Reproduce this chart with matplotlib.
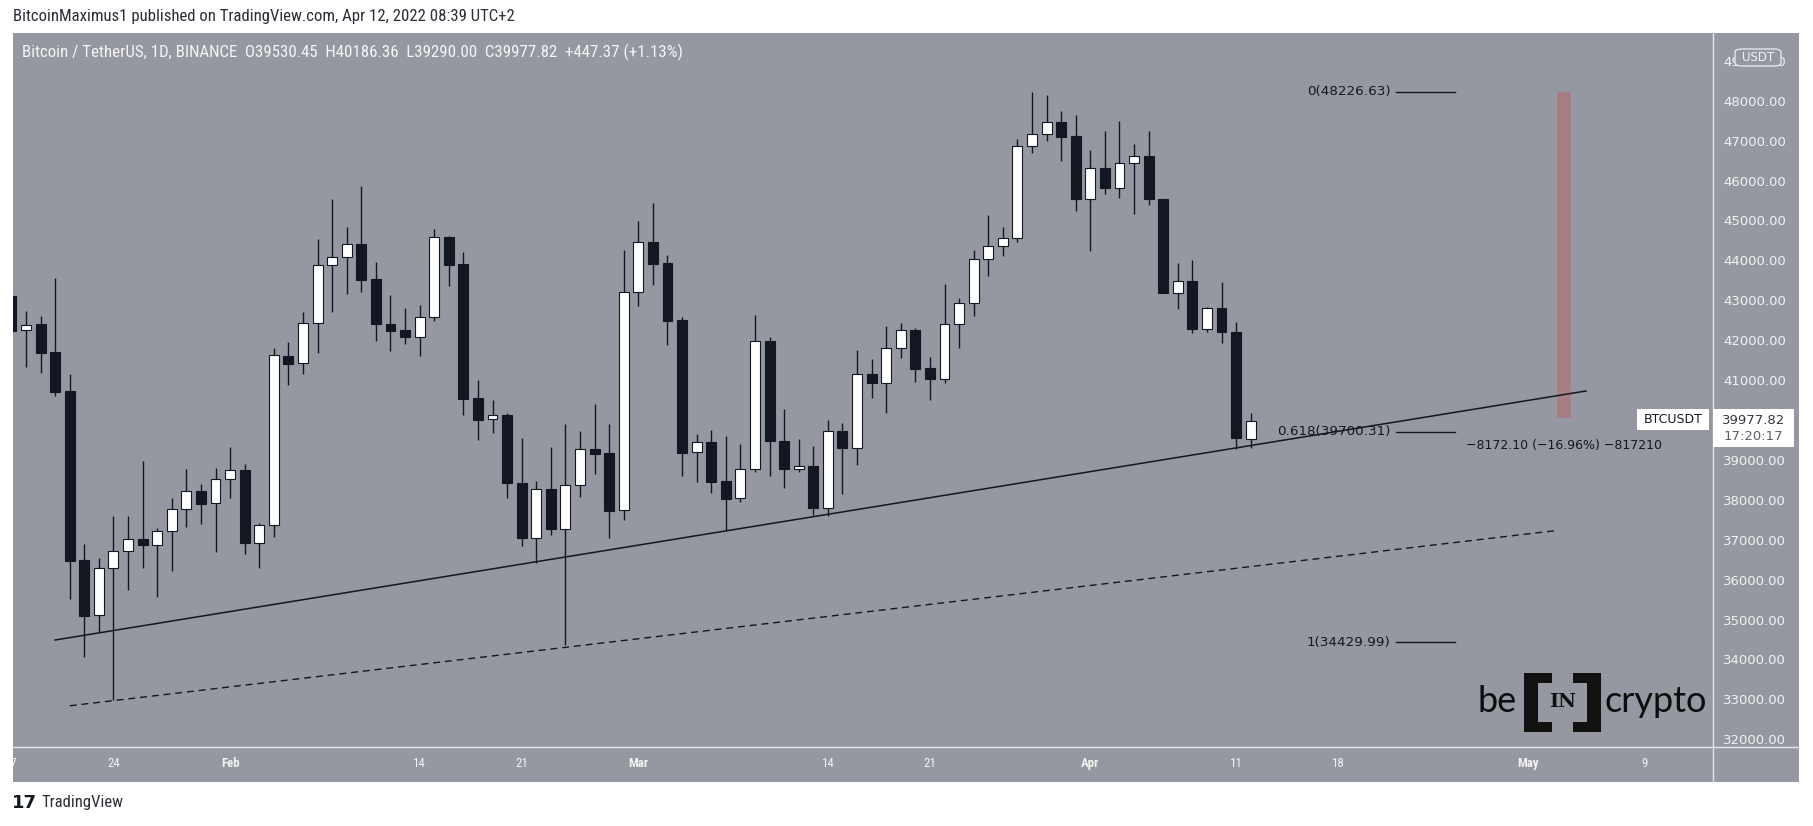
import numpy as np
import pandas as pd
import matplotlib
matplotlib.use("Agg")
import matplotlib.pyplot as plt
import matplotlib.dates as mdates
from matplotlib import font_manager
from matplotlib.patches import Rectangle, FancyBboxPatch
from matplotlib.lines import Line2D

# Daily BTC/USDT candles, Jan 17 - Apr 12 2022
dates = pd.date_range("2022-01-17", "2022-04-12", freq="D")
opens = [43107, 42247, 42405, 41700, 40725, 36491, 35106, 36284, 36710, 37010,
         36860, 37210, 37762, 38220, 37914,
         38515, 38747, 36926, 37362, 41603, 41420, 42423, 43876, 44076, 44402,
         43525, 42405, 42247, 42087, 42573, 44577, 43907, 40550, 40017, 40125,
         38420, 37049, 38262, 37276, 38362, 39265, 39173, 37738,
         43199, 44452, 43926, 42505, 39190, 39440, 38471, 38038, 38764, 41971,
         39466, 38764, 38847, 37803, 39724, 39306, 41145, 40934, 41796, 42254,
         41302, 41034, 42397, 42924, 44026, 44360, 44552, 46857, 47158, 47459,
         47116,
         45529, 46306, 45820, 46431, 46615, 45537, 43189, 43483, 42287, 42798,
         42197, 39530.45]
highs = [43450, 42731, 42605, 43550, 41152, 36891, 36534, 37594, 37594, 38973,
         37300, 38053, 38774, 38396, 38789,
         39323, 38890, 37428, 41796, 41946, 42706, 44530, 45537, 44835, 45863,
         43958, 43137, 42798, 42882, 44785, 44600, 44208, 41002, 40500, 40183,
         39548, 38471, 39312, 39900, 39723, 40393, 39900, 44259,
         44986, 45429, 44126, 42588, 39649, 39749, 39606, 39390, 42630, 42087,
         40275, 39524, 39349, 39999, 39932, 41754, 41528, 42355, 42422, 42297,
         41586, 43407, 43049, 44259, 45144, 44843, 47033, 48210, 48143, 47742,
         47641,
         46757, 47241, 47491, 46915, 47241, 45545, 43933, 44009, 42823, 43465,
         42447, 40186.36]
lows = [41950, 41320, 41185, 40610, 35507, 34069, 34695, 32984, 35740, 36300,
        35557, 36216, 37326, 37394, 36700,
        38053, 36650, 36299, 37076, 40876, 41160, 41686, 42713, 43157, 43214,
        41979, 41736, 41904, 41604, 42488, 43365, 40125, 39498, 39666, 38053,
        36841, 36409, 37106, 34350, 38078, 38639, 37051, 37494,
        42864, 43383, 41879, 38604, 38454, 38164, 37218, 37937, 38705, 38604,
        38288, 38705, 37619, 37594, 38146, 38872, 40558, 40183, 41561, 40960,
        40500, 40934, 41812, 42605, 43608, 44116, 44452, 46697, 46990, 46497,
        45244,
        44234, 45670, 45570, 45169, 45387, 43174, 42781, 42170, 42197, 41921,
        39265, 39290.00]
closes = [42237, 42387, 41686, 40709, 36475, 35096, 36284, 36710, 37010, 36860,
          37210, 37762, 38220, 37902, 38515,
          38741, 36926, 37362, 41620, 41410, 42423, 43876, 44076, 44402, 43515,
          42398, 42237, 42087, 42573, 44577, 43891, 40533, 40007, 40117, 38413,
          37049, 38262, 37268, 38362, 39265, 39155, 37728, 43199,
          44452, 43916, 42488, 39180, 39440, 38454, 38027, 38764, 41979, 39466,
          38764, 38840, 37803, 39716, 39306, 41145, 40934, 41796, 42254, 41285,
          41034, 42397, 42924, 44026, 44360, 44560, 46857, 47158, 47459, 47098,
          45529,
          46306, 45820, 46431, 46607, 45529, 43189, 43483, 42287, 42798, 42197,
          39556, 39977.82]

# Drawings
support_dates = ["2022-01-20", "2022-05-05"]
support_prices = [34487, 40726]
lower_dates = ["2022-01-21", "2022-05-03"]
lower_prices = [32839, 37231]
fib_labels = ["0", "0.618", "1"]
fib_prices = [48226.63, 39700.31, 34429.99]
fib_dates = ["2022-04-22", "2022-04-26"]
range_dates = ["2022-05-03", "2022-05-04"]
range_top, range_bottom = 48226.63, 40054.53

tick_dates = ["2022-01-24", "2022-02-01", "2022-02-14", "2022-02-21", "2022-03-01",
              "2022-03-14", "2022-03-21", "2022-04-01", "2022-04-11", "2022-04-18",
              "2022-05-01", "2022-05-09"]
tick_labels = ["24", "Feb", "14", "21", "Mar", "14", "21", "Apr", "11", "18", "May", "9"]
month_labels = {"Feb", "Mar", "Apr", "May"}

# Colors / fonts
GRAY = "#9598a1"
DARK = "#131722"
AXTXT = "#f2f2f2"
W, H = 1813, 826

avail = {f.name for f in font_manager.fontManager.ttflist}
def pick(*names):
    return next((n for n in names if n in avail), "DejaVu Sans")
NARROW = pick("Liberation Sans Narrow", "Roboto Condensed", "Liberation Sans")
THIN = pick("Lato", "Open Sans", "Roboto")

def fx(x):
    return x / W

def fy(y):
    return 1 - y / H

fig = plt.figure(figsize=(W / 100, H / 100), dpi=100)
fig.patch.set_facecolor("white")

# gray panel behind chart + both scales
fig.add_artist(Rectangle((fx(13), fy(782)), fx(1799) - fx(13), fy(33) - fy(782),
                         transform=fig.transFigure, facecolor=GRAY, edgecolor="none", zorder=-1))

ax = fig.add_axes([fx(13), fy(747), fx(1713) - fx(13), fy(33) - fy(747)])
ax.set_facecolor(GRAY)
for s in ax.spines.values():
    s.set_visible(False)

x = mdates.date2num(dates)
o = np.array(opens); h = np.array(highs); l = np.array(lows); c = np.array(closes)
up = c >= o
ax.vlines(x, l, h, color=DARK, lw=1.0, zorder=2)
ax.bar(x, np.abs(c - o), width=0.68, bottom=np.minimum(o, c),
       color=np.where(up, "white", DARK), edgecolor=DARK, linewidth=0.8, zorder=3)

# trend lines
ax.plot(mdates.datestr2num(support_dates), support_prices, color=DARK, lw=1.1, zorder=4)
ax.plot(mdates.datestr2num(lower_dates), lower_prices, color=DARK, lw=1.0,
        dashes=(5, 3.5), zorder=4)

# fib levels
fx0, fx1 = mdates.datestr2num(fib_dates)
for lab, p in zip(fib_labels, fib_prices):
    ax.plot([fx0, fx1], [p, p], color=DARK, lw=1.0, zorder=4)
    ax.annotate(f"{lab}({p:.2f})", xy=(fx0, p), xytext=(-4, 0), textcoords="offset points",
                ha="right", va="center", fontsize=9.7, color=DARK)

# price range box
r0, r1 = mdates.datestr2num(range_dates)
ax.add_patch(Rectangle((r0, range_bottom), r1 - r0, range_top - range_bottom,
                       facecolor="#c94f4f", alpha=0.35, edgecolor="none", zorder=3))
diff = range_bottom - range_top
ax.annotate(f"\u2212{abs(diff):.2f} (\u221216.96%) \u2212817210", xy=((r0 + r1) / 2, range_bottom),
            xytext=(0, -20), textcoords="offset points", ha="center", va="center",
            fontsize=9, color=DARK)

# axes limits / ticks
x_left = mdates.datestr2num("2022-01-24") - 6.89
ax.set_xlim(x_left, x_left + 116.6)
ax.set_ylim(31806, 49696)
ax.yaxis.tick_right()
ax.set_yticks(np.arange(32000, 49001, 1000))
ax.set_yticklabels([f"{v:.2f}" for v in np.arange(32000, 49001, 1000)])
ax.tick_params(axis="y", length=0, pad=7.2, labelsize=9.5, labelcolor=AXTXT)
ax.set_xticks(mdates.datestr2num(tick_dates))
ax.set_xticklabels(tick_labels)
ax.tick_params(axis="x", length=0, pad=7.5, labelsize=9.3, labelcolor=AXTXT)
for t in ax.get_xticklabels():
    t.set_fontfamily(NARROW)
    if t.get_text() in month_labels:
        t.set_fontweight("bold")
# label of the cut-off week at the left edge
ax.text(mdates.datestr2num("2022-01-17"), -0.0146, "17", transform=ax.get_xaxis_transform(),
        ha="center", va="top", fontsize=9.3, color=AXTXT, family=NARROW, clip_on=False)
fig.add_artist(Rectangle((0, fy(782)), fx(13), fy(747) - fy(782), transform=fig.transFigure,
                         facecolor="white", edgecolor="none", zorder=10))

# separators
fig.add_artist(Line2D([fx(1713), fx(1713)], [fy(33), fy(782)], transform=fig.transFigure,
                      color="#e4e5e8", lw=1.0, zorder=5))
fig.add_artist(Line2D([fx(13), fx(1799)], [fy(747), fy(747)], transform=fig.transFigure,
                      color="#e4e5e8", lw=1.0, zorder=5))

# USDT box (covers most of the top price label, as in the original)
fig.add_artist(FancyBboxPatch((fx(1735), fy(66)), fx(1781) - fx(1735), fy(49) - fy(66),
                              boxstyle="round,pad=0,rounding_size=0.004", transform=fig.transFigure,
                              facecolor=GRAY, edgecolor="#eeeeee", lw=0.9, zorder=6))
fig.text(fx(1758), fy(57.5), "USDT", ha="center", va="center", fontsize=8.5, color=AXTXT, zorder=7)

# last price label
fig.add_artist(Rectangle((fx(1713), fy(447)), fx(1794) - fx(1713), fy(409) - fy(447),
                         transform=fig.transFigure, facecolor="white", edgecolor="none", zorder=6))
fig.text(fx(1753.5), fy(420), f"{closes[-1]:.2f}", ha="center", va="center", fontsize=9.5,
         color="#363a45", zorder=7)
fig.text(fx(1753.5), fy(437), "17:20:17", ha="center", va="center", fontsize=9.5,
         color="#5d606b", zorder=7)
fig.add_artist(Rectangle((fx(1637), fy(430)), fx(1709) - fx(1637), fy(409) - fy(430),
                         transform=fig.transFigure, facecolor="white", edgecolor="none", zorder=6))
fig.text(fx(1673), fy(419.5), "BTCUSDT", ha="center", va="center", fontsize=9,
         color=DARK, zorder=7)

# header texts
fig.text(fx(13), fy(17), "BitcoinMaximus1 published on TradingView.com, Apr 12, 2022 08:39 UTC+2",
         ha="left", va="center", fontsize=12.1, color="#2a2e39", family=NARROW)
chg = closes[-1] - opens[-1]
ohlc = (f"Bitcoin / TetherUS, 1D, BINANCE  O{opens[-1]:.2f}  H{highs[-1]:.2f}  "
        f"L{lows[-1]:.2f}  C{closes[-1]:.2f}  +{chg:.2f} (+{chg / opens[-1] * 100:.2f}%)")
fig.text(fx(22), fy(52), ohlc, ha="left", va="center", fontsize=12.2, color="#f5f5f5",
         family=NARROW, zorder=7)

# TradingView footer
fig.text(fx(12), fy(803), "17", ha="left", va="center", fontsize=13, fontweight="bold",
         color=DARK)
fig.text(fx(41), fy(803), "TradingView", ha="left", va="center", fontsize=12,
         color="#2a2e39", family=NARROW)

# beincrypto watermark
fig.text(fx(1517), fy(702), "be", ha="right", va="center", fontsize=26, color="#0d0d0d",
         family=THIN, zorder=7)
fig.text(fx(1605), fy(702), "crypto", ha="left", va="center", fontsize=26, color="#0d0d0d",
         family=THIN, zorder=7)
for (bx, by, bw, bh) in [(1524, 673, 14, 59), (1524, 673, 28, 10), (1524, 722, 28, 10),
                         (1587, 673, 14, 59), (1573, 673, 28, 10), (1573, 722, 28, 10)]:
    fig.add_artist(Rectangle((fx(bx), fy(by + bh)), bw / W, bh / H, transform=fig.transFigure,
                             facecolor="#111111", edgecolor="none", zorder=7))
fig.text(fx(1562.5), fy(702), "IN", ha="center", va="center", fontsize=14, fontweight="bold",
         family="DejaVu Serif", color="#111111", zorder=7)

fig.savefig("out.png", dpi=100)
